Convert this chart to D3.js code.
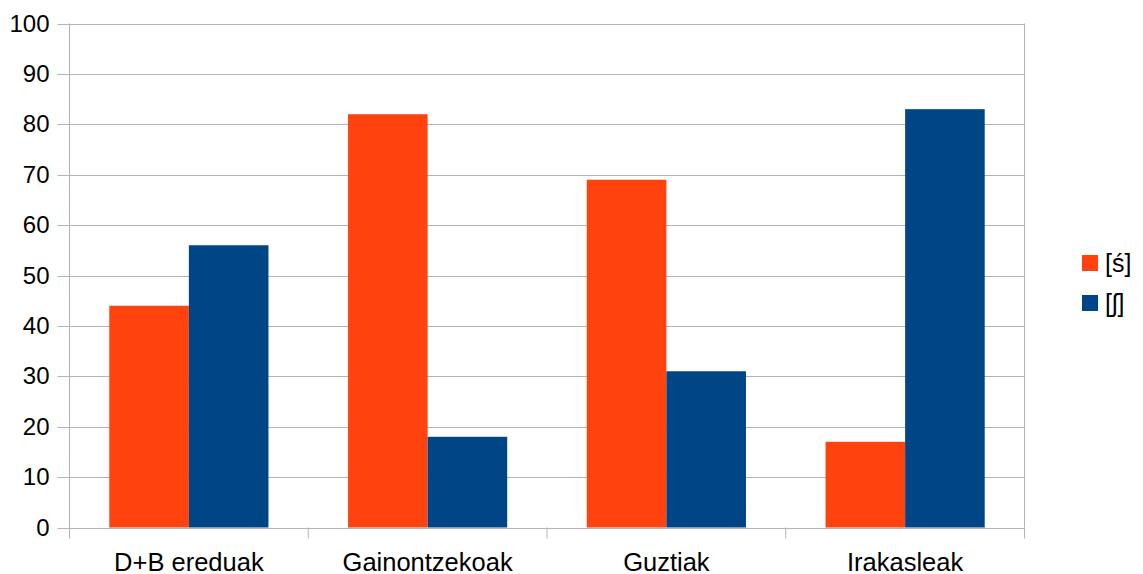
<!DOCTYPE html>
<html>
<head>
<meta charset="utf-8">
<script src="https://cdn.jsdelivr.net/npm/d3@7"></script>
<style>
  body { margin: 0; background: #fff; }
  svg { display: block; font-family: "Liberation Sans", Arial, sans-serif; }
</style>
</head>
<body>
<svg id="chart" width="1143" height="574"></svg>
<script>
const categories = ["D+B ereduak", "Gainontzekoak", "Guztiak", "Irakasleak"];
const seriesNames = ["[ś]", "[ʃ]"];
const seriesS = [44, 82, 69, 17];
const seriesSh = [56, 18, 31, 83];
const yTicks = [0, 10, 20, 30, 40, 50, 60, 70, 80, 90, 100];
const colors = ["#ff420e", "#004586"];

const svg = d3.select("#chart");
const margin = { left: 69.5, right: 1024.5, top: 23.5, bottom: 527.5 };

const x = d3.scaleBand().domain(categories).range([margin.left, margin.right]).paddingInner(0).paddingOuter(0);
const xInner = d3.scaleBand().domain(seriesNames).range([0, x.bandwidth()]).paddingInner(0).paddingOuter(0.5);
const y = d3.scaleLinear().domain([0, 100]).range([margin.bottom, margin.top]);

const grid = "#b3b3b3";

// horizontal gridlines
svg.append("g").selectAll("line").data(yTicks).join("line")
  .attr("x1", margin.left - 12).attr("x2", margin.right)
  .attr("y1", d => Math.round(y(d)) + 0.5).attr("y2", d => Math.round(y(d)) + 0.5)
  .attr("stroke", grid).attr("stroke-width", 1);

// right border
svg.append("line")
  .attr("x1", margin.right).attr("x2", margin.right)
  .attr("y1", margin.top).attr("y2", margin.bottom)
  .attr("stroke", grid);

// bars
const rows = categories.map((c, i) => ({ cat: c, vals: [seriesS[i], seriesSh[i]] }));
const groups = svg.append("g").selectAll("g").data(rows).join("g")
  .attr("transform", d => `translate(${x(d.cat)},0)`);
groups.selectAll("rect").data(d => d.vals.map((v, j) => ({ name: seriesNames[j], v, j })))
  .join("rect")
  .attr("x", d => xInner(d.name))
  .attr("width", xInner.bandwidth())
  .attr("y", d => y(d.v))
  .attr("height", d => y(0) - y(d.v))
  .attr("fill", d => colors[d.j]);

// y axis
const yAxis = svg.append("g").attr("transform", `translate(${margin.left},0)`)
  .call(d3.axisLeft(y).tickValues(yTicks).tickSize(12).tickPadding(8));
yAxis.select(".domain").attr("stroke", grid).attr("d", `M0,${margin.top}V${margin.bottom + 11}`);
yAxis.selectAll(".tick line").remove();
yAxis.selectAll("text").attr("font-size", 24).attr("fill", "#000")
  .attr("font-family", "Liberation Sans, Arial, sans-serif");

// x axis: tick marks at category boundaries
const bounds = categories.map(c => x(c)).concat([margin.right]);
svg.append("g").selectAll("line").data(bounds).join("line")
  .attr("x1", d => d).attr("x2", d => d)
  .attr("y1", margin.bottom).attr("y2", margin.bottom + 11)
  .attr("stroke", grid);
svg.append("g").selectAll("text").data(categories).join("text")
  .attr("x", d => x(d) + x.bandwidth() / 2)
  .attr("y", 571)
  .attr("text-anchor", "middle")
  .attr("font-size", 25.5)
  .attr("fill", "#000")
  .text(d => d);

// legend
const legend = svg.append("g").selectAll("g").data(seriesNames).join("g")
  .attr("transform", (d, i) => `translate(1082,${255 + i * 40})`);
legend.append("rect").attr("width", 16).attr("height", 16).attr("fill", (d, i) => colors[i]);
legend.append("text").attr("x", 23).attr("y", 17).attr("font-size", 25).attr("fill", "#000").text(d => d);
</script>
</body>
</html>
